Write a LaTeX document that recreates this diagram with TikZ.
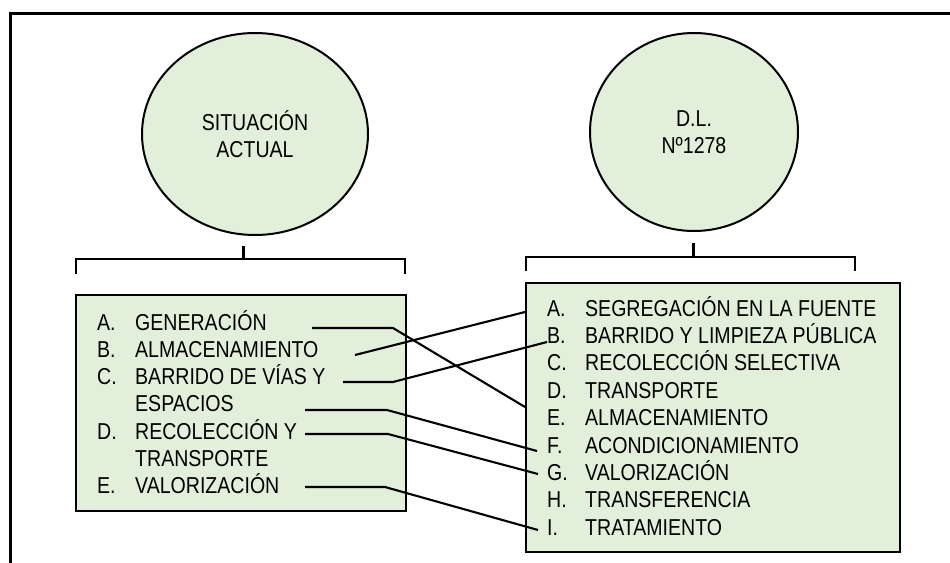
\documentclass[tikz,border=0pt]{standalone}
\usepackage{fontspec}
\setmainfont{Liberation Sans}[FakeStretch=0.85]
\usetikzlibrary{shapes.geometric}
\definecolor{paleGreen}{HTML}{E2EFDA}
\newcommand{\listfont}{\fontsize{23}{27.3}\selectfont}
\tikzset{
	bubble/.style={ellipse, draw=black, line width=2pt, fill=paleGreen, align=center, font=\listfont, inner sep=0pt},
	listbox/.style={rectangle, draw=black, line width=2.6pt, fill=paleGreen, inner sep=0pt},
	item/.style={anchor=base west, inner sep=0pt, font=\listfont},
	link/.style={line width=2.1pt}
}

\begin{document}
\begin{tikzpicture}[x=1pt, y=-1pt]
		%%%%% START %%%%%
		
		\clip (0,0) rectangle (950,562);
		\draw[line width=2.6pt] (10.5,580) -- (10.5,13.5) -- (960,13.5);
		
		\node[bubble, minimum width=226pt, minimum height=202pt] (actual) at (255,134) {SITUACIÓN\\ACTUAL};
		\node[bubble, minimum width=208pt, minimum height=198pt] (ley) at (694,132) {D.L.\\Nº1278};
		
		\draw[line width=2.2pt] (76,274) -- (76,259) -- (405,259) -- (405,274);
		\draw[line width=3pt] (243,246) -- (243,259);
		\draw[line width=2.2pt] (526,271) -- (526,257) -- (855,257) -- (855,271);
		\draw[line width=3pt] (693,243) -- (693,257);
		
		\node[listbox, minimum width=330pt, minimum height=216pt] (actualbox) at (241,403) {};
		\node[listbox, minimum width=374pt, minimum height=269pt] (leybox) at (713,417.5) {};
		
		\foreach \ltr/\txt [count=\i from 0] in {A./GENERACIÓN, B./ALMACENAMIENTO, C./BARRIDO DE VÍAS Y, /ESPACIOS, D./RECOLECCIÓN Y, /TRANSPORTE, E./VALORIZACIÓN} {
			\node[item] (sl\i) at (97, {330+27.3*\i}) {\ltr};
			\node[item] (st\i) at (135, {330+27.3*\i}) {\txt};
		}
		
		\foreach \ltr/\txt [count=\i from 0] in {A./SEGREGACIÓN EN LA FUENTE, B./BARRIDO Y LIMPIEZA PÚBLICA, C./RECOLECCIÓN SELECTIVA, D./TRANSPORTE, E./ALMACENAMIENTO, F./ACONDICIONAMIENTO, G./VALORIZACIÓN, H./TRANSFERENCIA, I./TRATAMIENTO} {
			\node[item] (dl\i) at (547, {316+27.4*\i}) {\ltr};
			\node[item] (dt\i) at (585, {316+27.4*\i}) {\txt};
		}
		
		\coordinate (gen) at (312,328);
		\coordinate (alm) at (355,355);
		\coordinate (bar) at (343,382);
		\coordinate (esp) at (305,410);
		\coordinate (rec) at (305,434);
		\coordinate (val) at (305,487);
		\coordinate (toA) at (525,312);
		\coordinate (toB) at (547,342);
		\coordinate (toE) at (525,407);
		\coordinate (toF) at (537,451);
		\coordinate (toG) at (538,474);
		\coordinate (toI) at (538,530);
		
		\draw[link] (gen) -- ++(81,0) -- (toE);
		\draw[link] (alm) -- (toA);
		\draw[link] (bar) -- ++(50,0) -- (toB);
		\draw[link] (esp) -- ++(82,0) -- (toF);
		\draw[link] (rec) -- ++(83,0) -- (toG);
		\draw[link] (val) -- ++(80,0) -- (toI);
		
		%%%%% END %%%%%
\end{tikzpicture}
\end{document}
